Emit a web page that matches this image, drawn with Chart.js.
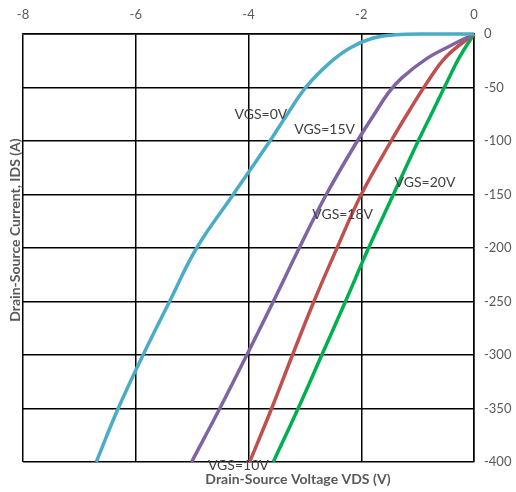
<!DOCTYPE html>
<html>
<head>
<meta charset="utf-8">
<script src="https://cdn.jsdelivr.net/npm/chart.js@4/dist/chart.umd.min.js"></script>
<style>
  html, body { margin: 0; padding: 0; background: #fff; }
  #wrap { width: 516px; height: 492px; position: relative; }
</style>
</head>
<body>
<div id="wrap"><canvas id="c"></canvas></div>
<script>
// Third-quadrant output characteristics: drain-source voltage VDS (V) vs. drain current IDS (A)

// VGS = 0 V (body diode)
const vdsGate0  = [-6.70, -6.32, -5.87, -5.40, -4.92, -4.27, -3.62, -3.30, -2.97, -2.56, -2.20, -1.80, -1.40, -0.80, 0];
const idsGate0  = [-400,  -351,  -300,  -250,  -200,  -150,  -100,  -74,   -49,   -27,   -13,   -4,    -0.8,  0,     0];

// VGS = 15 V
const vdsGate15 = [-5.01, -4.51, -4.03, -3.56, -3.10, -2.62, -2.07, -1.78, -1.52, -1.28, -0.84, -0.42, 0];
const idsGate15 = [-400,  -350,  -300,  -250,  -200,  -150,  -100,  -76,   -55,   -41,   -23,   -11,   0];

// VGS = 18 V
const vdsGate18 = [-3.98, -3.59, -3.22, -2.84, -2.43, -2.00, -1.47, -1.14, -0.84, -0.49, 0];
const idsGate18 = [-400,  -350,  -300,  -250,  -200,  -150,  -100,  -71,   -46,   -21,   0];

// VGS = 20 V
const vdsGate20 = [-3.56, -3.12, -2.70, -2.28, -1.87, -1.43, -0.99, -0.72, -0.49, -0.25, 0];
const idsGate20 = [-400,  -350,  -300,  -250,  -200,  -150,  -100,  -71,   -46,   -21,   0];

// Axis ticks
const vdsTicks = [-8, -6, -4, -2, 0];
const idsTicks = [0, -50, -100, -150, -200, -250, -300, -350, -400];

// Curve annotations (text and anchor in axis units)
const curveLabelText = ['VGS=0V', 'VGS=15V', 'VGS=18V', 'VGS=20V', 'VGS=10V'];
const curveLabelVds  = [-3.78, -2.65, -2.33, -0.87, -4.18];
const curveLabelIds  = [-74.8, -89.7, -169, -139, -402.8];

const xTitle = 'Drain-Source Voltage VDS (V)';
const yTitle = 'Drain-Source Current, IDS (A)';

const toPoints = (xs, ys) => xs.map((x, i) => ({ x, y: ys[i] }));

const curve = (label, xs, ys, color) => ({
  label,
  data: toPoints(xs, ys),
  borderColor: color,
  backgroundColor: color,
  borderWidth: 3.5,
  pointRadius: 0,
  showLine: true,
  fill: false,
  tension: 0.4,
  clip: false
});

const textPlugin = {
  id: 'curveText',
  afterDatasetsDraw(chart) {
    const { ctx, scales: { x, y }, chartArea: a } = chart;
    ctx.save();
    ctx.textAlign = 'center';
    ctx.textBaseline = 'middle';
    ctx.fillStyle = '#404040';
    ctx.font = '14px Lato, "Open Sans", sans-serif';
    curveLabelText.forEach((t, i) => {
      ctx.fillText(t, x.getPixelForValue(curveLabelVds[i]), y.getPixelForValue(curveLabelIds[i]));
    });
    ctx.fillStyle = '#595959';
    ctx.font = 'bold 14px Lato, "Open Sans", sans-serif';
    ctx.fillText(xTitle, a.left + 275, a.bottom + 17);
    ctx.translate(a.left - 8, a.top + 196);
    ctx.rotate(-Math.PI / 2);
    ctx.fillText(yTitle, 0, 0);
    ctx.restore();
  }
};

const tickFont = { family: 'Lato, "Open Sans", sans-serif', size: 13 };

new Chart(document.getElementById('c'), {
  type: 'scatter',
  data: {
    datasets: [
      curve('VGS=0V', vdsGate0, idsGate0, '#4BACC6'),
      curve('VGS=15V', vdsGate15, idsGate15, '#8064A2'),
      curve('VGS=18V', vdsGate18, idsGate18, '#C0504D'),
      curve('VGS=20V', vdsGate20, idsGate20, '#00B050')
    ]
  },
  options: {
    responsive: true,
    maintainAspectRatio: false,
    animation: false,
    layout: { padding: { left: 23, right: 0, top: 0, bottom: 30 } },
    plugins: { legend: { display: false }, tooltip: { enabled: false } },
    scales: {
      x: {
        type: 'linear',
        position: 'top',
        min: -8,
        max: 0,
        afterBuildTicks: s => { s.ticks = vdsTicks.map(v => ({ value: v })); },
        afterFit: s => { s.height = 34; },
        ticks: { color: '#595959', font: tickFont, padding: 11 },
        grid: { color: '#000', lineWidth: 1.5, drawTicks: false },
        border: { color: '#000', width: 1.5 }
      },
      y: {
        type: 'linear',
        position: 'right',
        min: -400,
        max: 0,
        afterBuildTicks: s => { s.ticks = idsTicks.map(v => ({ value: v })); },
        afterFit: s => { s.width = 42; },
        ticks: { color: '#595959', font: tickFont, padding: 10 },
        grid: { color: '#000', lineWidth: 1.5, drawTicks: false },
        border: { color: '#000', width: 1.5 }
      }
    }
  },
  plugins: [textPlugin]
});
</script>
</body>
</html>
